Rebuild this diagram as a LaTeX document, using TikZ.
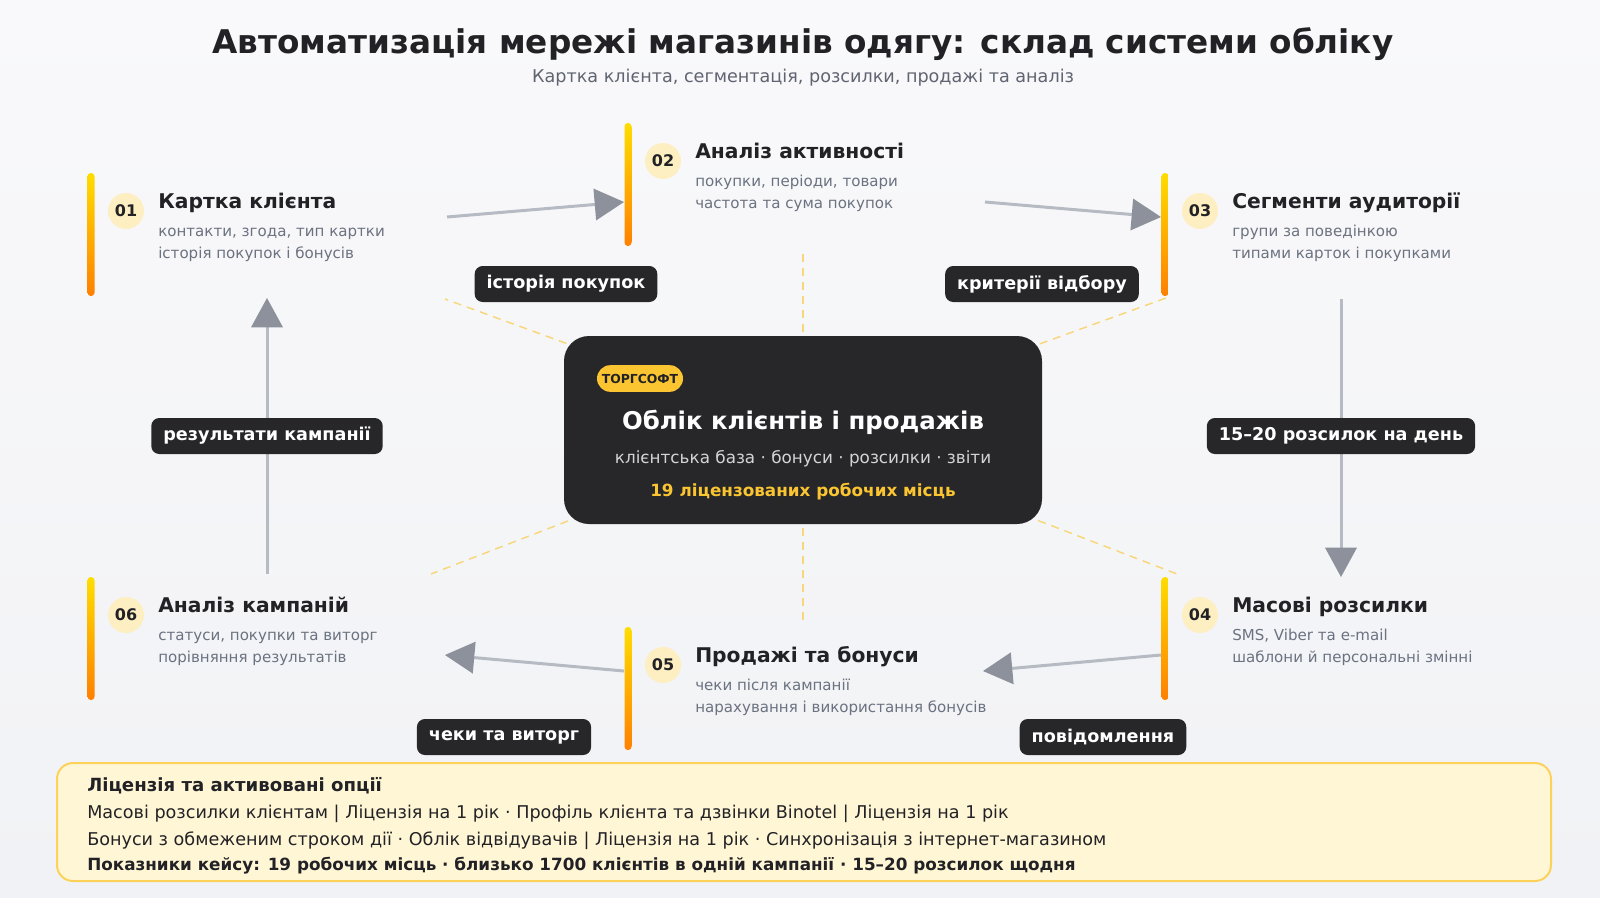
\documentclass[tikz,border=0pt]{standalone}
\usepackage{fontspec}
\setmainfont{DejaVu Sans}
\usetikzlibrary{arrows.meta}
\definecolor{bgtop}{HTML}{F9F9FB}
\definecolor{bgbot}{HTML}{F1F2F5}
\definecolor{ink}{HTML}{222226}
\definecolor{subgray}{HTML}{5F6470}
\definecolor{muted}{HTML}{6B7280}
\definecolor{dark}{HTML}{27272A}
\definecolor{numfill}{HTML}{FDEFC2}
\definecolor{barY}{HTML}{FFDD00}
\definecolor{barO}{HTML}{FF8000}
\definecolor{arrowline}{HTML}{B5BAC3}
\definecolor{arrowhead}{HTML}{8C919B}
\definecolor{spokec}{HTML}{F8D77A}
\definecolor{badge}{HTML}{FBC531}
\definecolor{hubsub}{HTML}{D4D4D8}
\definecolor{panelfill}{HTML}{FFF6D5}
\definecolor{panelline}{HTML}{FCD25A}
\newcommand\stepblock[7]{%
  \shade[top color=barY, bottom color=barO, rounded corners=2.5pt] ({#2-3.5},#3) rectangle ({#2+3.5},{#3+123});
  \node[numc] (#1n) at ({#2+35},{#3+38}) {#4};
  \node[steptitle] (#1t) at ({#2+67},{#3+35}) {#5};
  \node[stepdesc] (#1a) at ({#2+67},{#3+63}) {#6};
  \node[stepdesc] (#1b) at ({#2+67},{#3+85}) {#7};
}
\begin{document}
\begin{tikzpicture}[x=0.75pt,y=-0.75pt,
  steptitle/.style={font=\fontsize{15.2}{18}\selectfont\bfseries, text=ink, inner sep=0pt, anchor=base west},
  stepdesc/.style={font=\fontsize{11.3}{14}\selectfont, text=muted, inner sep=0pt, anchor=base west},
  numc/.style={circle, fill=numfill, minimum size=27pt, inner sep=0pt, font=\fontsize{12}{14}\selectfont\bfseries, text=ink},
  flow/.style={line width=2.25pt, draw=arrowline, -{Triangle[length=22pt,width=24pt,color=arrowhead,line width=0pt]}},
  tag/.style={fill=dark, rounded corners=6pt, text=white, font=\fontsize{13.2}{15}\selectfont\bfseries, minimum height=27pt, inner xsep=9pt, inner ysep=0pt},
  spoke/.style={draw=spokec, line width=1.1pt, dash pattern=on 6pt off 4.5pt},
  paneltext/.style={font=\fontsize{13.2}{15}\selectfont, text=ink, inner sep=0pt, anchor=base west},
]
\useasboundingbox (0,0) rectangle (1600,897);
\shade[top color=bgtop, bottom color=bgbot] (0,0) rectangle (1600,897);

% title
\node[font=\fontsize{24.5}{28}\selectfont\bfseries, text=ink, anchor=base, inner sep=0pt] (title) at (803,53.5) {Автоматизація мережі магазинів одягу: склад системи обліку};
\node[font=\fontsize{13.2}{15}\selectfont, text=subgray, anchor=base, inner sep=0pt] (subtitle) at (803,82.5) {Картка клієнта, сегментація, розсилки, продажі та аналіз};

% spokes
\coordinate (hubc) at (803,430);
\coordinate (d1) at (445,299);
\coordinate (d2) at (803,253);
\coordinate (d3) at (1166,298);
\coordinate (d4) at (1177,574);
\coordinate (d5) at (803,622);
\coordinate (d6) at (431,574);
\foreach \d in {d1,d2,d3,d4,d5,d6} \draw[spoke] (hubc) -- (\d);

% hub
\node[fill=dark, rounded corners=18.75pt, minimum width=358.5pt, minimum height=141pt] (hub) at (803,430) {};
\node[fill=badge, rounded corners=10pt, minimum width=64.5pt, minimum height=20pt, inner sep=0pt, font=\fontsize{9.3}{10}\selectfont\bfseries, text=ink] (badge) at (640,378.5) {ТОРГСОФТ};
\node[font=\fontsize{18.3}{21}\selectfont\bfseries, text=white, anchor=base, inner sep=0pt] (hubtitle) at (803,429) {Облік клієнтів і продажів};
\node[font=\fontsize{12.6}{15}\selectfont, text=hubsub, anchor=base, inner sep=0pt] (hubsub) at (803,463.5) {клієнтська база · бонуси · розсилки · звіти};
\node[font=\fontsize{12.6}{15}\selectfont\bfseries, text=badge, anchor=base, inner sep=0pt] (hubnum) at (803,496) {19 ліцензованих робочих місць};

% steps
\stepblock{s1}{91}{173}{01}{Картка клієнта}{контакти, згода, тип картки}{історія покупок і бонусів}
\stepblock{s2}{628}{123}{02}{Аналіз активності}{покупки, періоди, товари}{частота та сума покупок}
\stepblock{s3}{1165}{173}{03}{Сегменти аудиторії}{групи за поведінкою}{типами карток і покупками}
\stepblock{s4}{1165}{577}{04}{Масові розсилки}{SMS, Viber та e-mail}{шаблони й персональні змінні}
\stepblock{s5}{628}{627}{05}{Продажі та бонуси}{чеки після кампанії}{нарахування і використання бонусів}
\stepblock{s6}{91}{577}{06}{Аналіз кампаній}{статуси, покупки та виторг}{порівняння результатів}

% arrow endpoints
\coordinate (a1s) at (447,217);  \coordinate (a1e) at (624,202);
\coordinate (a2s) at (985,202);  \coordinate (a2e) at (1161,217);
\coordinate (a3s) at (1341,299); \coordinate (a3e) at (1341,577);
\coordinate (a4s) at (1161,655); \coordinate (a4e) at (983,671);
\coordinate (a5s) at (624,671);  \coordinate (a5e) at (445,655);
\coordinate (a6s) at (267,574);  \coordinate (a6e) at (267,298);
\draw[flow] (a1s) -- (a1e);
\draw[flow] (a2s) -- (a2e);
\draw[flow] (a3s) -- (a3e);
\draw[flow] (a4s) -- (a4e);
\draw[flow] (a5s) -- (a5e);
\draw[flow] (a6s) -- (a6e);

% labels
\node[tag] (l1) at (566,284) {історія покупок};
\node[tag] (l2) at (1042,284) {критерії відбору};
\node[tag] (l3) at (1341,436) {15–20 розсилок на день};
\node[tag] (l4) at (1103,737) {повідомлення};
\node[tag] (l5) at (504,737) {чеки та виторг};
\node[tag] (l6) at (267,436) {результати кампанії};

% bottom panel
\draw[fill=panelfill, draw=panelline, line width=1.5pt, rounded corners=12pt] (57,763) rectangle (1551,881);
\node[paneltext, font=\fontsize{13.6}{15}\selectfont\bfseries] (p1) at (87,791) {Ліцензія та активовані опції};
\node[paneltext] (p2) at (87,818) {Масові розсилки клієнтам | Ліцензія на 1 рік · Профіль клієнта та дзвінки Binotel | Ліцензія на 1 рік};
\node[paneltext] (p3) at (87,845) {Бонуси з обмеженим строком дії · Облік відвідувачів | Ліцензія на 1 рік · Синхронізація з інтернет-магазином};
\node[paneltext, font=\fontsize{12.6}{15}\selectfont\bfseries] (p4) at (87,870) {Показники кейсу: 19 робочих місць · близько 1700 клієнтів в одній кампанії · 15–20 розсилок щодня};
\end{tikzpicture}
\end{document}
